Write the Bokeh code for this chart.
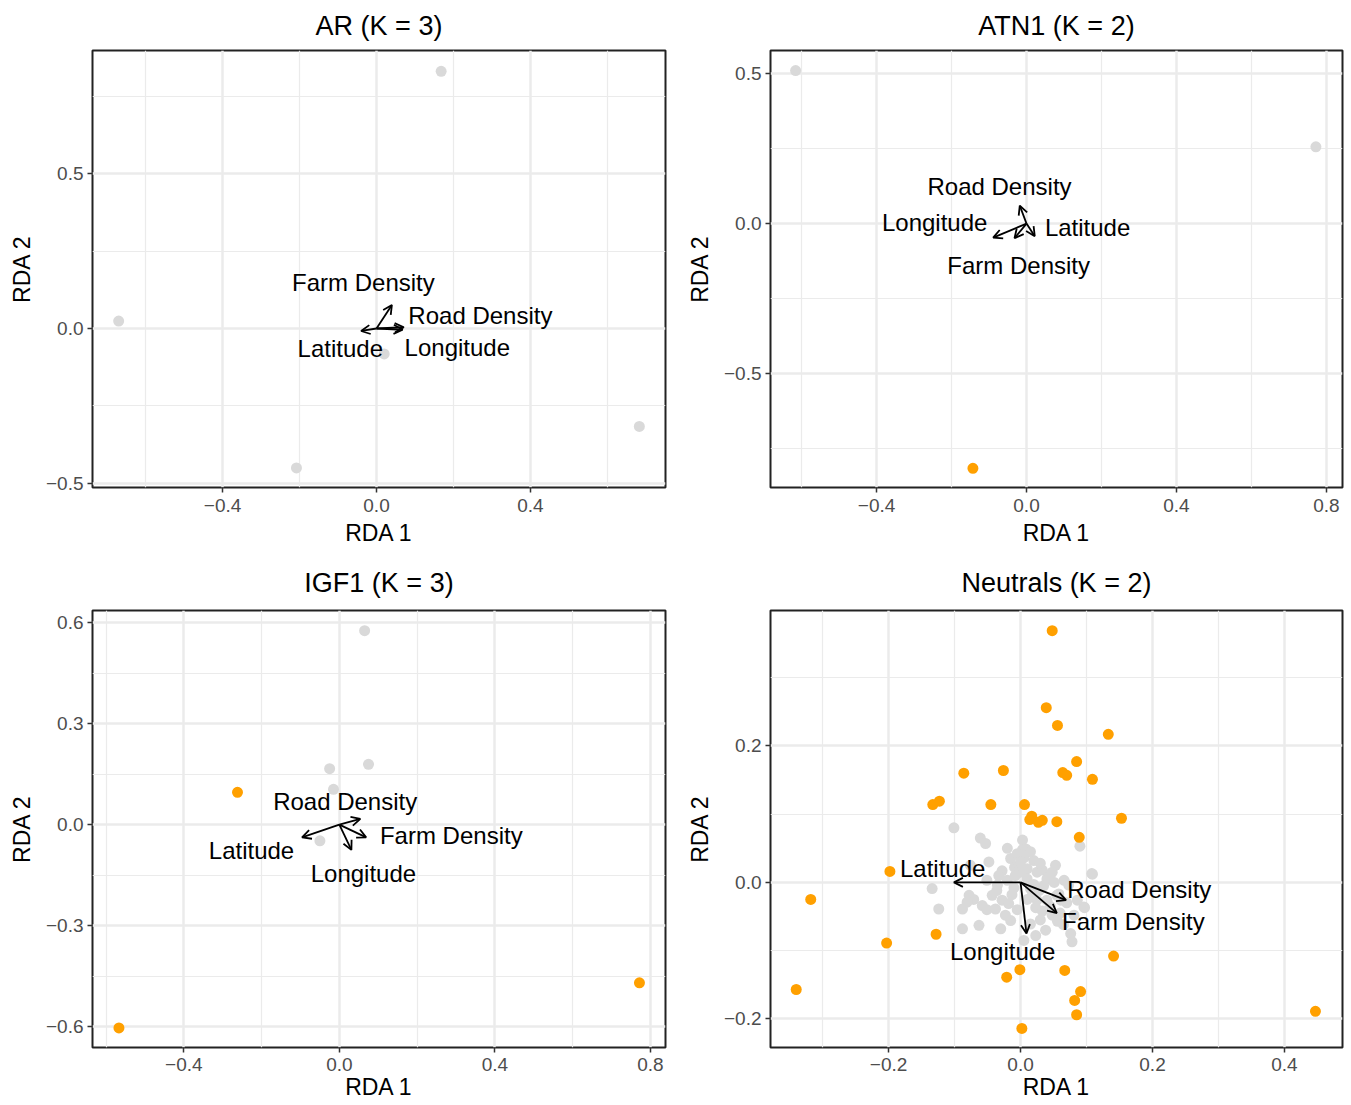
from bokeh.plotting import figure
from bokeh.layouts import gridplot
from bokeh.models import FixedTicker, Arrow, OpenHead, ColumnDataSource, Range1d
from bokeh.embed import file_html
from bokeh.resources import INLINE
from bokeh.core.properties import value

FONT = "Liberation Sans"
GREY_PT = "#D9D9D9"
ORANGE_PT = "#FFA000"

# ---------------- AR (K = 3) ----------------
ar_grey_x = [0.168, -0.670, 0.020, -0.208, 0.683]
ar_grey_y = [0.830, 0.024, -0.082, -0.450, -0.316]
ar_orange_x = []
ar_orange_y = []
ar_vars = ["Farm Density", "Road Density", "Longitude", "Latitude"]
ar_arrow_x = [0.040, 0.071, 0.068, -0.040]
ar_arrow_y = [0.076, 0.004, -0.004, -0.008]
ar_label_x = [-0.034, 0.270, 0.210, -0.094]
ar_label_y = [0.148, 0.042, -0.061, -0.065]
ar_xticks = [-0.4, 0.0, 0.4]
ar_xtick_labels = ["\u22120.4", "0.0", "0.4"]
ar_xminor = [-0.6, -0.2, 0.2, 0.6]
ar_yticks = [-0.5, 0.0, 0.5]
ar_ytick_labels = ["\u22120.5", "0.0", "0.5"]
ar_yminor = [-0.25, 0.25, 0.75]
ar_xrange = (-0.738, 0.751)
ar_yrange = (-0.513, 0.897)

# ---------------- ATN1 (K = 2) ----------------
atn_grey_x = [-0.616, 0.772]
atn_grey_y = [0.510, 0.256]
atn_orange_x = [-0.143]
atn_orange_y = [-0.816]
atn_vars = ["Road Density", "Latitude", "Longitude", "Farm Density"]
atn_arrow_x = [-0.018, 0.022, -0.089, -0.032]
atn_arrow_y = [0.060, -0.042, -0.047, -0.049]
atn_label_x = [-0.072, 0.163, -0.245, -0.021]
atn_label_y = [0.123, -0.013, 0.003, -0.140]
atn_xticks = [-0.4, 0.0, 0.4, 0.8]
atn_xtick_labels = ["\u22120.4", "0.0", "0.4", "0.8"]
atn_xminor = [-0.6, -0.2, 0.2, 0.6]
atn_yticks = [-0.5, 0.0, 0.5]
atn_ytick_labels = ["\u22120.5", "0.0", "0.5"]
atn_yminor = [-0.75, -0.25, 0.25]
atn_xrange = (-0.683, 0.843)
atn_yrange = (-0.880, 0.577)

# ---------------- IGF1 (K = 3) ----------------
igf_grey_x = [0.065, -0.025, 0.075, -0.015, -0.050]
igf_grey_y = [0.576, 0.166, 0.179, 0.105, -0.048]
igf_orange_x = [-0.262, 0.772, -0.567]
igf_orange_y = [0.096, -0.470, -0.604]
igf_vars = ["Road Density", "Latitude", "Farm Density", "Longitude"]
igf_arrow_x = [0.054, -0.096, 0.069, 0.031]
igf_arrow_y = [0.017, -0.038, -0.038, -0.075]
igf_label_x = [0.015, -0.226, 0.288, 0.062]
igf_label_y = [0.068, -0.077, -0.033, -0.146]
igf_xticks = [-0.4, 0.0, 0.4, 0.8]
igf_xtick_labels = ["\u22120.4", "0.0", "0.4", "0.8"]
igf_xminor = [-0.6, -0.2, 0.2, 0.6]
igf_yticks = [-0.6, -0.3, 0.0, 0.3, 0.6]
igf_ytick_labels = ["\u22120.6", "\u22120.3", "0.0", "0.3", "0.6"]
igf_yminor = [-0.45, -0.15, 0.15, 0.45]
igf_xrange = (-0.635, 0.839)
igf_yrange = (-0.662, 0.636)

# ---------------- Neutrals (K = 2) ----------------
neu_grey_x = [-0.101, -0.061, -0.053, 0.003, 0.003, 0.005, -0.015, 0.090, -0.048, -0.076,
              -0.028, -0.009, -0.002, 0.000, -0.008, 0.010, 0.025, 0.033, 0.053, 0.109,
              0.040, 0.051, 0.066, 0.073, -0.020, -0.035, -0.134, -0.078, -0.071, -0.081,
              -0.043, -0.036, -0.124, -0.088, -0.058, -0.051, -0.028, -0.018, -0.013, -0.038,
              -0.023, 0.018, 0.025, 0.023, 0.033, 0.040, 0.015, 0.028, 0.096, 0.086,
              0.081, -0.088, -0.063, -0.030, 0.015, 0.038, 0.048, 0.056, 0.076, 0.078,
              0.023, 0.005, -0.015, 0.061, 0.058, 0.048, 0.020, 0.008, -0.005, -0.033,
              -0.051, 0.010, 0.020, -0.010, 0.035, 0.045, 0.060, 0.030, 0.065, 0.070,
              0.010, -0.005, 0.000, -0.020, 0.015, 0.055, 0.097, 0.108, 0.045, 0.030]
neu_grey_y = [0.080, 0.065, 0.057, 0.062, 0.048, 0.036, 0.035, 0.053, 0.030, 0.025,
              0.017, 0.022, 0.025, 0.015, 0.010, 0.020, 0.015, 0.018, 0.025, 0.012,
              0.005, 0.000, 0.003, -0.004, 0.003, -0.004, -0.009, -0.019, -0.025, -0.029,
              -0.019, -0.012, -0.039, -0.039, -0.034, -0.040, -0.026, -0.031, -0.018, -0.039,
              -0.048, -0.019, -0.026, -0.037, -0.042, -0.026, -0.009, -0.012, -0.036, -0.026,
              -0.048, -0.068, -0.063, -0.068, -0.061, -0.070, -0.048, -0.057, -0.075, -0.087,
              -0.078, -0.085, -0.056, -0.026, -0.017, 0.015, 0.032, 0.049, 0.042, 0.010,
              0.003, 0.005, -0.003, -0.008, -0.005, -0.035, -0.045, -0.055, -0.062, -0.030,
              -0.025, -0.040, 0.030, 0.050, 0.045, -0.019, -0.037, 0.013, 0.010, 0.028]
neu_orange_x = [0.048, 0.039, 0.056, 0.133, 0.085, -0.086, -0.026, 0.064, 0.070, 0.109,
                -0.133, -0.123, -0.045, 0.006, 0.017, 0.014, 0.027, 0.033, 0.055, 0.153,
                0.089, -0.198, -0.318, -0.128, -0.203, -0.340, 0.141, -0.001, -0.021, 0.067,
                0.091, 0.082, 0.085, 0.002, 0.447]
neu_orange_y = [0.369, 0.256, 0.230, 0.217, 0.177, 0.160, 0.164, 0.161, 0.157, 0.151,
                0.114, 0.119, 0.114, 0.114, 0.097, 0.092, 0.088, 0.091, 0.089, 0.094,
                0.066, 0.016, -0.025, -0.076, -0.089, -0.157, -0.108, -0.128, -0.139, -0.129,
                -0.160, -0.173, -0.194, -0.214, -0.189]
neu_vars = ["Latitude", "Road Density", "Farm Density", "Longitude"]
neu_arrow_x = [-0.101, 0.069, 0.055, 0.009]
neu_arrow_y = [0.000, -0.026, -0.045, -0.075]
neu_label_x = [-0.118, 0.180, 0.171, -0.027]
neu_label_y = [0.020, -0.010, -0.058, -0.102]
neu_xticks = [-0.2, 0.0, 0.2, 0.4]
neu_xtick_labels = ["\u22120.2", "0.0", "0.2", "0.4"]
neu_xminor = [-0.3, -0.1, 0.1, 0.3]
neu_yticks = [-0.2, 0.0, 0.2]
neu_ytick_labels = ["\u22120.2", "0.0", "0.2"]
neu_yminor = [-0.1, 0.1, 0.3]
neu_xrange = (-0.379, 0.488)
neu_yrange = (-0.242, 0.3985)


def make_panel(title, xr, yr, xticks, xlabels, xminor, yticks, ylabels, yminor,
               gx, gy, ox, oy, names, ax, ay, lx, ly,
               width, height, bl, br, bt, bb, xtick_standoff, xlab_standoff, title_standoff):
    p = figure(width=width, height=height, output_backend="svg", toolbar_location=None,
               x_range=Range1d(*xr), y_range=Range1d(*yr),
               min_border_left=bl, min_border_right=br, min_border_top=bt, min_border_bottom=bb,
               background_fill_color="white", border_fill_color="white")
    p.title.text = title
    p.title.align = "center"
    p.title.vertical_align = "top"
    p.title.text_font = FONT
    p.title.text_font_size = "27px"
    p.title.text_font_style = "normal"
    p.title.text_color = "black"
    p.title.standoff = title_standoff

    p.outline_line_color = "#222222"
    p.outline_line_width = 2

    p.xaxis.ticker = FixedTicker(ticks=xticks, minor_ticks=xminor)
    p.yaxis.ticker = FixedTicker(ticks=yticks, minor_ticks=yminor)
    p.xaxis.major_label_overrides = dict(zip(xticks, xlabels))
    p.yaxis.major_label_overrides = dict(zip(yticks, ylabels))

    for axis in (p.xaxis, p.yaxis):
        axis.axis_line_color = None
        axis.minor_tick_line_color = None
        axis.major_tick_line_color = "#333333"
        axis.major_tick_line_width = 1.5
        axis.major_tick_out = 5
        axis.major_tick_in = 0
        axis.major_label_text_font = FONT
        axis.major_label_text_font_size = "19px"
        axis.major_label_text_color = "#4D4D4D"
        axis.axis_label_text_font = FONT
        axis.axis_label_text_font_size = "23px"
        axis.axis_label_text_font_style = "normal"
        axis.axis_label_text_color = "black"
    p.xaxis.axis_label = "RDA 1"
    p.yaxis.axis_label = "RDA 2"
    p.xaxis.major_label_standoff = xtick_standoff
    p.xaxis.axis_label_standoff = xlab_standoff
    p.yaxis.major_label_standoff = 4
    p.yaxis.axis_label_standoff = 8

    for g in (p.xgrid, p.ygrid):
        g.grid_line_color = "#EBEBEB"
        g.grid_line_width = 2.5
        g.minor_grid_line_color = "#EBEBEB"
        g.minor_grid_line_width = 1.2

    if gx:
        p.scatter(gx, gy, size=11, color=GREY_PT, line_color=None)
    if ox:
        p.scatter(ox, oy, size=11, color=ORANGE_PT, line_color=None)

    src = ColumnDataSource(dict(x0=[0.0] * len(ax), y0=[0.0] * len(ay), x1=ax, y1=ay))
    p.add_layout(Arrow(source=src, x_start="x0", y_start="y0", x_end="x1", y_end="y1",
                       line_color="black", line_width=1.8,
                       end=OpenHead(size=9, line_color="black", line_width=1.8)))
    p.text(lx, ly, text=names, text_font=value(FONT), text_font_size="24px",
           text_align="center", text_baseline="middle", text_color="black")
    return p


W_L, W_R = 680, 670
H_T, H_B = 556, 548

p1 = make_panel("AR (K = 3)", ar_xrange, ar_yrange, ar_xticks, ar_xtick_labels, ar_xminor,
                ar_yticks, ar_ytick_labels, ar_yminor, ar_grey_x, ar_grey_y, ar_orange_x, ar_orange_y,
                ar_vars, ar_arrow_x, ar_arrow_y, ar_label_x, ar_label_y,
                W_L, H_T, 92, 15, 50, 69, 6, 5, 16)
p2 = make_panel("ATN1 (K = 2)", atn_xrange, atn_yrange, atn_xticks, atn_xtick_labels, atn_xminor,
                atn_yticks, atn_ytick_labels, atn_yminor, atn_grey_x, atn_grey_y, atn_orange_x, atn_orange_y,
                atn_vars, atn_arrow_x, atn_arrow_y, atn_label_x, atn_label_y,
                W_R, H_T, 90, 8, 50, 69, 6, 5, 16)
p3 = make_panel("IGF1 (K = 3)", igf_xrange, igf_yrange, igf_xticks, igf_xtick_labels, igf_xminor,
                igf_yticks, igf_ytick_labels, igf_yminor, igf_grey_x, igf_grey_y, igf_orange_x, igf_orange_y,
                igf_vars, igf_arrow_x, igf_arrow_y, igf_label_x, igf_label_y,
                W_L, H_B, 92, 15, 54, 57, 5, 0, 22)
p4 = make_panel("Neutrals (K = 2)", neu_xrange, neu_yrange, neu_xticks, neu_xtick_labels, neu_xminor,
                neu_yticks, neu_ytick_labels, neu_yminor, neu_grey_x, neu_grey_y, neu_orange_x, neu_orange_y,
                neu_vars, neu_arrow_x, neu_arrow_y, neu_label_x, neu_label_y,
                W_R, H_B, 90, 8, 54, 57, 5, 0, 22)

layout = gridplot([[p1, p2], [p3, p4]], toolbar_location=None)

open("out.html", "w").write(file_html(layout, INLINE))
